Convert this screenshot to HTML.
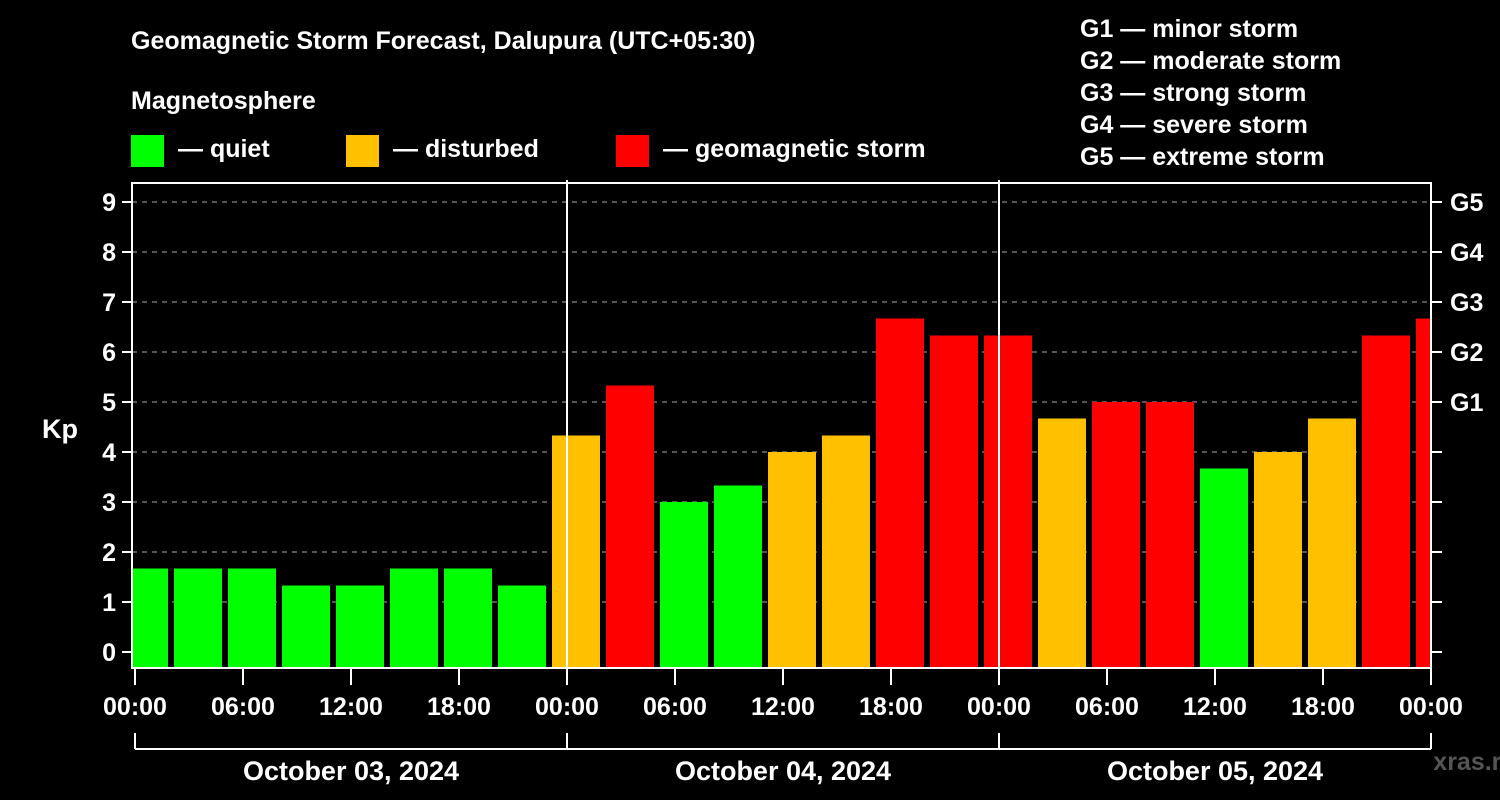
<!DOCTYPE html>
<html><head><meta charset="utf-8"><style>
body{margin:0;background:#000;}
svg{display:block;font-family:"Liberation Sans",sans-serif;font-weight:bold;}
</style></head><body>
<svg width="1500" height="800" viewBox="0 0 1500 800">
<rect width="1500" height="800" fill="#000"/>
<text x="131" y="49" fill="#fff" font-size="25">Geomagnetic Storm Forecast, Dalupura (UTC+05:30)</text>
<text x="131" y="109" fill="#fff" font-size="25">Magnetosphere</text>
<g><rect x="131" y="135" width="33" height="32" fill="#00ff00"/><text x="178" y="157" fill="#fff" font-size="25">— quiet</text></g>
<g><rect x="346" y="135" width="33" height="32" fill="#ffc000"/><text x="393" y="157" fill="#fff" font-size="25">— disturbed</text></g>
<g><rect x="616" y="135" width="33" height="32" fill="#ff0000"/><text x="663" y="157" fill="#fff" font-size="25">— geomagnetic storm</text></g>
<g fill="#fff" font-size="25">
<text x="1080" y="37">G1 — minor storm</text>
<text x="1080" y="69">G2 — moderate storm</text>
<text x="1080" y="101">G3 — strong storm</text>
<text x="1080" y="133">G4 — severe storm</text>
<text x="1080" y="165">G5 — extreme storm</text>
</g>
<text x="42" y="438" fill="#fff" font-size="27">Kp</text>
<text x="1475" y="770" fill="#555" font-size="25" text-anchor="middle">xras.ru</text>
<defs><clipPath id="pc"><rect x="132" y="183" width="1299" height="485"/></clipPath></defs>
<g id="grid"></g>
<g id="bars" clip-path="url(#pc)"></g>
<g id="axes"></g>
</svg>
<script>
const kpValues=[1.67,1.67,1.67,1.33,1.33,1.67,1.67,1.33,4.33,5.33,3,3.33,4,4.33,6.67,6.33,6.33,4.67,5,5,3.67,4,4.67,6.33,6.67];
const yTicks=[0,1,2,3,4,5,6,7,8,9];
const gLabels=["G1","G2","G3","G4","G5"];
const xTickLabels=["00:00","06:00","12:00","18:00","00:00","06:00","12:00","18:00","00:00","06:00","12:00","18:00","00:00"];
const dayLabels=["October 03, 2024","October 04, 2024","October 05, 2024"];
const NS="http://www.w3.org/2000/svg";
const x0=135,pxHour=18,slotOffset=-1; // first slot starts 1h before axis start
const Y=v=>652-v*50;
const X=h=>x0+h*pxHour;
function mk(p,t,a){const e=document.createElementNS(NS,t);for(const k in a)e.setAttribute(k,a[k]);p.appendChild(e);return e;}
const grid=document.getElementById('grid'),bars=document.getElementById('bars'),axes=document.getElementById('axes');
yTicks.forEach(v=>{
 if(v>0){const l=mk(grid,'line',{x1:132,x2:1431,y1:Y(v),y2:Y(v),stroke:'#888','stroke-width':1.3,'stroke-dasharray':'5,5'});
 
 }
 const t=mk(axes,'text',{x:116,y:Y(v)+9,fill:'#fff','font-size':25,'text-anchor':'end'});t.textContent=v;
 
 
 mk(axes,'line',{x1:122,x2:132,y1:Y(v),y2:Y(v),stroke:'#fff','stroke-width':2});
 mk(axes,'line',{x1:1431,x2:1442,y1:Y(v),y2:Y(v),stroke:'#fff','stroke-width':2});
});
gLabels.forEach((g,i)=>{const t=mk(axes,'text',{x:1450,y:Y(5+i)+9,fill:'#fff','font-size':25});t.textContent=g;
 
 });
kpValues.forEach((v,i)=>{
 const s=X(slotOffset+3*i);
 const c=v<4?'#00ff00':(v<5?'#ffc000':'#ff0000');
 const r=mk(bars,'rect',{x:s+3,y:Y(v),width:48,height:668-Y(v),fill:c});
 
 
});
[24,48].forEach(h=>mk(axes,'line',{x1:X(h),x2:X(h),y1:180,y2:668,stroke:'#fff','stroke-width':2}));
mk(axes,'rect',{x:132,y:183,width:1299,height:485,fill:'none',stroke:'#fff','stroke-width':2});
xTickLabels.forEach((l,i)=>{const x=X(i*6);
 mk(axes,'line',{x1:x,x2:x,y1:668,y2:685,stroke:'#fff','stroke-width':2});
 const t=mk(axes,'text',{x:x,y:715,fill:'#fff','font-size':25,'text-anchor':'middle'});t.textContent=l;
 
 });
mk(axes,'line',{x1:X(0),x2:X(72),y1:749,y2:749,stroke:'#fff','stroke-width':2});
[0,24,48,72].forEach(h=>mk(axes,'line',{x1:X(h),x2:X(h),y1:733,y2:749,stroke:'#fff','stroke-width':2}));
dayLabels.forEach((d,i)=>{const t=mk(axes,'text',{x:X(24*i+12),y:780,fill:'#fff','font-size':27,'text-anchor':'middle'});t.textContent=d;
 
 });
</script>
</body></html>
